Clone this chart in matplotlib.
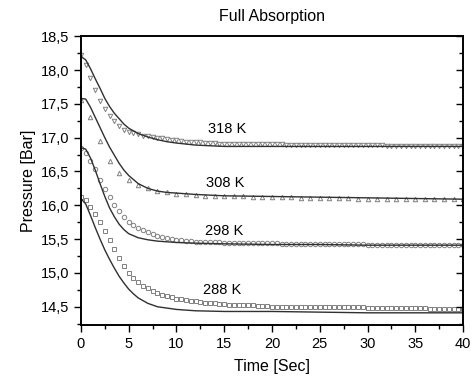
import matplotlib
matplotlib.use("Agg")
import matplotlib.pyplot as plt
from matplotlib.ticker import MultipleLocator, FuncFormatter

plt.rcParams['font.family'] = ['Liberation Sans', 'DejaVu Sans']

# measured data, sampled every 0.5 s (308 K every 1 s)
t_half = [0, 0.5, 1, 1.5, 2, 2.5, 3, 3.5, 4, 4.5,
          5, 5.5, 6, 6.5, 7, 7.5, 8, 8.5, 9, 9.5,
          10, 10.5, 11, 11.5, 12, 12.5, 13, 13.5, 14, 14.5,
          15, 15.5, 16, 16.5, 17, 17.5, 18, 18.5, 19, 19.5,
          20, 20.5, 21, 21.5, 22, 22.5, 23, 23.5, 24, 24.5,
          25, 25.5, 26, 26.5, 27, 27.5, 28, 28.5, 29, 29.5,
          30, 30.5, 31, 31.5, 32, 32.5, 33, 33.5, 34, 34.5,
          35, 35.5, 36, 36.5, 37, 37.5, 38, 38.5, 39, 39.5,
          40]
t_one = [0, 1, 2, 3, 4, 5, 6, 7, 8, 9,
         10, 11, 12, 13, 14, 15, 16, 17, 18, 19,
         20, 21, 22, 23, 24, 25, 26, 27, 28, 29,
         30, 31, 32, 33, 34, 35, 36, 37, 38, 39, 40]

exp_318 = [18.22, 18.08, 17.88, 17.70, 17.54, 17.42, 17.32, 17.24, 17.17, 17.12,
           17.09, 17.07, 17.05, 17.03, 17.02, 17.01, 17.00, 16.99, 16.98, 16.97,
           16.96, 16.95, 16.94, 16.94, 16.93, 16.93, 16.92, 16.92, 16.92, 16.91,
           16.91, 16.91, 16.91, 16.91, 16.90, 16.90, 16.90, 16.90, 16.90, 16.90,
           16.90, 16.90, 16.90, 16.89, 16.89, 16.89, 16.89, 16.89, 16.89, 16.89,
           16.89, 16.89, 16.89, 16.89, 16.89, 16.89, 16.89, 16.89, 16.89, 16.89,
           16.89, 16.89, 16.89, 16.89, 16.88, 16.88, 16.88, 16.88, 16.88, 16.88,
           16.88, 16.88, 16.88, 16.88, 16.88, 16.88, 16.88, 16.88, 16.88, 16.88,
           16.88]
exp_308 = [17.55, 17.30, 16.95, 16.66, 16.48, 16.37, 16.30, 16.25, 16.21, 16.19,
           16.17, 16.16, 16.15, 16.14, 16.14, 16.13, 16.13, 16.13, 16.12, 16.12,
           16.12, 16.12, 16.12, 16.11, 16.11, 16.11, 16.11, 16.11, 16.11, 16.10,
           16.10, 16.10, 16.10, 16.10, 16.10, 16.10, 16.10, 16.10, 16.09, 16.09,
           16.09]
exp_298 = [16.85, 16.78, 16.66, 16.54, 16.38, 16.24, 16.12, 16.01, 15.91, 15.82,
           15.76, 15.71, 15.67, 15.63, 15.60, 15.57, 15.55, 15.53, 15.51, 15.50,
           15.49, 15.48, 15.47, 15.47, 15.46, 15.46, 15.45, 15.45, 15.45, 15.45,
           15.44, 15.44, 15.44, 15.44, 15.44, 15.44, 15.44, 15.44, 15.44, 15.44,
           15.44, 15.44, 15.43, 15.43, 15.43, 15.43, 15.43, 15.43, 15.43, 15.43,
           15.43, 15.43, 15.43, 15.43, 15.43, 15.43, 15.43, 15.43, 15.43, 15.43,
           15.42, 15.42, 15.42, 15.42, 15.42, 15.42, 15.42, 15.42, 15.42, 15.42,
           15.42, 15.42, 15.42, 15.42, 15.41, 15.41, 15.41, 15.41, 15.41, 15.41,
           15.41]
exp_288 = [16.12, 16.08, 15.98, 15.87, 15.76, 15.62, 15.48, 15.35, 15.22, 15.10,
           15.00, 14.92, 14.87, 14.81, 14.77, 14.73, 14.70, 14.68, 14.66, 14.64,
           14.62, 14.61, 14.60, 14.59, 14.58, 14.57, 14.56, 14.55, 14.55, 14.54,
           14.54, 14.53, 14.53, 14.53, 14.52, 14.52, 14.52, 14.51, 14.51, 14.51,
           14.50, 14.50, 14.50, 14.50, 14.50, 14.50, 14.50, 14.50, 14.50, 14.50,
           14.49, 14.49, 14.49, 14.49, 14.49, 14.49, 14.49, 14.49, 14.49, 14.49,
           14.48, 14.48, 14.48, 14.48, 14.48, 14.48, 14.48, 14.48, 14.48, 14.48,
           14.48, 14.48, 14.48, 14.47, 14.47, 14.47, 14.47, 14.47, 14.47, 14.47,
           14.47]

# model curves
t_model = [0, 0.5, 1, 1.5, 2, 2.5, 3, 3.5, 4, 4.5, 5, 5.5, 6, 7, 8, 9, 10, 12, 15, 20, 25, 30, 35, 40]
mod_318 = [18.20, 18.15, 18.02, 17.87, 17.73, 17.58, 17.46, 17.36, 17.28, 17.20, 17.14, 17.10,
           17.06, 17.01, 16.97, 16.94, 16.92, 16.89, 16.87, 16.87, 16.87, 16.87, 16.87, 16.87]
mod_308 = [17.58, 17.57, 17.45, 17.30, 17.15, 17.00, 16.86, 16.74, 16.62, 16.52, 16.44, 16.38,
           16.32, 16.25, 16.21, 16.19, 16.18, 16.16, 16.14, 16.13, 16.12, 16.11, 16.10, 16.09]
mod_298 = [16.85, 16.83, 16.70, 16.52, 16.32, 16.13, 15.96, 15.83, 15.72, 15.64, 15.58, 15.55,
           15.52, 15.49, 15.47, 15.46, 15.45, 15.44, 15.43, 15.42, 15.42, 15.41, 15.41, 15.41]
mod_288 = [16.10, 16.02, 15.85, 15.67, 15.50, 15.34, 15.20, 15.07, 14.95, 14.85, 14.76, 14.69,
           14.63, 14.55, 14.50, 14.48, 14.46, 14.44, 14.43, 14.43, 14.42, 14.41, 14.41, 14.41]

labels = ['318 K', '308 K', '298 K', '288 K']
label_pos = [(15.3, 17.13), (15.1, 16.33), (15.0, 15.62), (14.8, 14.75)]

fig = plt.figure(figsize=(4.76, 3.81), dpi=100)
ax = fig.add_axes([0.170, 0.147, 0.803, 0.758])

mk = dict(linestyle='none', markerfacecolor='none', markeredgecolor='#808080',
          markeredgewidth=0.7, markersize=3.2)
ax.plot(t_half, exp_318, marker='v', **mk)
ax.plot(t_one, exp_308, marker='^', **mk)
ax.plot(t_half, exp_298, marker='o', **mk)
ax.plot(t_half, exp_288, marker='s', **mk)

for m in (mod_318, mod_308, mod_298, mod_288):
    ax.plot(t_model, m, color='#303030', lw=1.0)

for txt, (x, y) in zip(labels, label_pos):
    ax.text(x, y, txt, fontsize=10.5, ha='center', va='center')

ax.set_xlim(0, 40)
ax.set_ylim(14.23, 18.5)
ax.xaxis.set_major_locator(MultipleLocator(5))
ax.xaxis.set_minor_locator(MultipleLocator(2.5))
ax.yaxis.set_major_locator(MultipleLocator(0.5))
ax.yaxis.set_minor_locator(MultipleLocator(0.25))
ax.yaxis.set_major_formatter(FuncFormatter(lambda v, p: ('%.1f' % v).replace('.', ',')))

ax.tick_params(which='both', direction='out', top=False, right=False, labelsize=10.5, width=1.0)
ax.tick_params(which='major', length=5)
ax.tick_params(which='minor', length=3)

# inward ticks on the right side
ax2 = ax.twinx()
ax2.set_ylim(ax.get_ylim())
ax2.yaxis.set_major_locator(MultipleLocator(0.5))
ax2.yaxis.set_minor_locator(MultipleLocator(0.25))
ax2.tick_params(which='both', direction='in', labelright=False, width=1.0)
ax2.tick_params(which='major', length=5)
ax2.tick_params(which='minor', length=3)

for a in (ax, ax2):
    for s in a.spines.values():
        s.set_linewidth(1.2)

ax.set_xlabel('Time [Sec]', fontsize=11.5, labelpad=6)
ax.set_ylabel('Pressure [Bar]', fontsize=11.5, labelpad=3)
ax.set_title('Full Absorption', fontsize=11.5, pad=11)

fig.savefig('out.png', dpi=100)
